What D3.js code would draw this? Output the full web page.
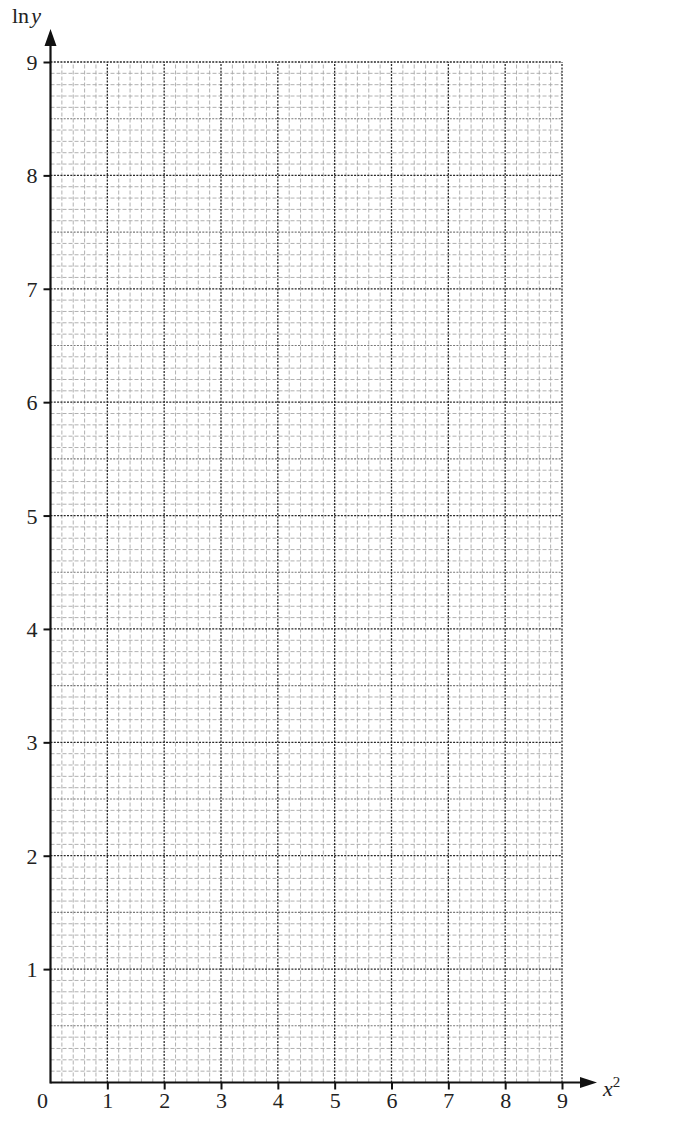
<!DOCTYPE html>
<html>
<head>
<meta charset="utf-8">
<script src="https://cdn.jsdelivr.net/npm/d3@7"></script>
<style>
  html, body { margin: 0; padding: 0; background: #fff; }
  svg text { font-family: "Liberation Serif", "DejaVu Serif", serif; fill: #222; }
</style>
</head>
<body>
<svg id="chart" width="686" height="1121"></svg>
<script>
// axis ranges and labels
const xDomain = [0, 9];
const yDomain = [0, 9];
const xTickValues = [1, 2, 3, 4, 5, 6, 7, 8, 9];
const yTickValues = [1, 2, 3, 4, 5, 6, 7, 8, 9];
const originLabel = "0";
const xLabel = ["x", "2"];      // x squared
const yLabel = ["ln", "y"];     // ln y

const W = 686, H = 1121;
const m = { left: 50.5, right: 124, top: 62, bottom: 38.5 };
const FS = 22;

const svg = d3.select("#chart");
const x = d3.scaleLinear().domain(xDomain).range([m.left, W - m.right]);
const y = d3.scaleLinear().domain(yDomain).range([H - m.bottom, m.top]);

// grid: minor 0.2 across, 0.1 up; half-units up slightly darker; whole units darkest
const near = (v, s) => Math.abs(v / s - Math.round(v / s)) < 1e-6;
const grid = svg.append("g").attr("class", "grid");

const xMinor = x.ticks(45).filter(v => v > 0 && !near(v, 1));
const yMinor = y.ticks(90).filter(v => v > 0 && !near(v, 0.5));
const yHalf = y.ticks(18).filter(v => v > 0 && !near(v, 1));
const xMajor = x.ticks(9).filter(v => v > 0);
const yMajor = y.ticks(9).filter(v => v > 0);

function vLines(vals, stroke, dash, sw) {
  grid.append("g").selectAll("line").data(vals).join("line")
    .attr("x1", d => x(d)).attr("x2", d => x(d))
    .attr("y1", y(0)).attr("y2", y(9))
    .attr("stroke", stroke).attr("stroke-dasharray", dash).attr("stroke-width", sw);
}
function hLines(vals, stroke, dash, sw) {
  grid.append("g").selectAll("line").data(vals).join("line")
    .attr("y1", d => y(d)).attr("y2", d => y(d))
    .attr("x1", x(0)).attr("x2", x(9))
    .attr("stroke", stroke).attr("stroke-dasharray", dash).attr("stroke-width", sw);
}

vLines(xMinor, "#a8a8a8", "4,2", 0.9);
hLines(yMinor, "#a8a8a8", "4,2", 0.9);
hLines(yHalf, "#7a7a7a", "2,1.3", 1.1);
vLines(xMajor, "#2a2a2a", "2,1.3", 1.3);
hLines(yMajor, "#2a2a2a", "2,1.3", 1.3);

// axes with arrowheads
const ax = svg.append("g").attr("class", "axes");
const x0 = x(0), y0 = y(0);
const xTip = x(9) + 35, yTip = y(9) - 33;

ax.append("line").attr("x1", x0).attr("x2", xTip - 14).attr("y1", y0).attr("y2", y0)
  .attr("stroke", "#111").attr("stroke-width", 2.2);
ax.append("line").attr("x1", x0).attr("x2", x0).attr("y1", y0 + 1).attr("y2", yTip + 14)
  .attr("stroke", "#111").attr("stroke-width", 2.2);

ax.append("path")
  .attr("d", `M${xTip},${y0} L${xTip - 17},${y0 - 5.5} L${xTip - 17},${y0 + 5.5} Z`)
  .attr("fill", "#111");
ax.append("path")
  .attr("d", `M${x0},${yTip} L${x0 - 6},${yTip + 17} L${x0 + 6},${yTip + 17} Z`)
  .attr("fill", "#111");

// tick marks and labels through d3 axes
const xAxis = d3.axisBottom(x).tickValues(xTickValues).tickSize(7).tickPadding(3).tickFormat(d3.format("d"));
const yAxis = d3.axisLeft(y).tickValues(yTickValues).tickSize(7).tickPadding(6).tickFormat(d3.format("d"));

const gx = svg.append("g").attr("transform", `translate(0,${y0})`).call(xAxis);
const gy = svg.append("g").attr("transform", `translate(${x0},0)`).call(yAxis);
[gx, gy].forEach(g => {
  g.attr("font-size", FS).attr("font-family", null);
  g.select(".domain").remove();
  g.selectAll(".tick line").attr("stroke", "#111").attr("stroke-width", 2);
  g.selectAll(".tick text").attr("font-size", FS).attr("fill", "#222")
    .style("font-family", '"Liberation Serif", serif');
});
gy.selectAll(".tick text").attr("dy", "0.34em");

svg.append("text").attr("x", x0 - 8).attr("y", y0 + 25)
  .attr("text-anchor", "middle").attr("font-size", FS).text(originLabel);

// axis titles
const xt = svg.append("text").attr("x", xTip + 6).attr("y", y0 + 13).attr("font-size", FS);
xt.append("tspan").attr("font-style", "italic").text(xLabel[0]);
xt.append("tspan").attr("font-size", 15).attr("dy", -9).text(xLabel[1]);

const yt = svg.append("text").attr("x", 12).attr("y", 23).attr("font-size", FS);
yt.append("tspan").text(yLabel[0]);
yt.append("tspan").attr("font-style", "italic").attr("dx", 2).text(yLabel[1]);
</script>
</body>
</html>
